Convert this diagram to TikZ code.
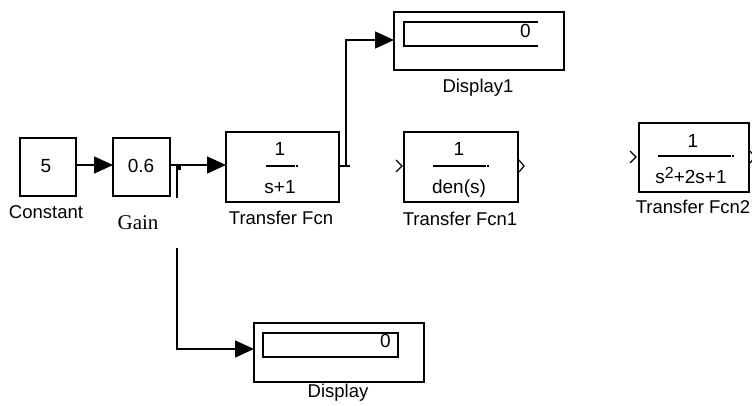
\documentclass[tikz,border=0pt]{standalone}
\usepackage{fontspec}
\setmainfont{Liberation Sans}
\newfontfamily\gainfont{Liberation Serif}
\usetikzlibrary{arrows.meta}
\begin{document}
\begin{tikzpicture}[x=1pt,y=-1pt,
  blk/.style={draw, line width=1.6pt, inner sep=0pt, outer sep=0pt, anchor=north west},
  conn/.style={line width=1.5pt},
  arr/.style={conn, -{Triangle[length=19pt,width=17pt]}},
  txt/.style={anchor=base, inner sep=0pt, font=\fontsize{19}{21}\selectfont},
  lbl/.style={anchor=base, inner sep=0pt, font=\fontsize{18.5}{21}\selectfont},
  frac/.style={line width=1.3pt},
  port/.style={line width=1.2pt}]
\useasboundingbox (0,0) rectangle (752,405);
% blocks
\node[blk, minimum width=56pt, minimum height=58pt] (const) at (20,138) {};
\node[blk, minimum width=57pt, minimum height=58pt] (gain) at (113,138) {};
\node[blk, minimum width=113pt, minimum height=70pt] (tf) at (226,132) {};
\node[blk, minimum width=114pt, minimum height=70pt] (tf1) at (404,132) {};
\node[blk, minimum width=110pt, minimum height=69pt] (tf2) at (639,123) {};
\node[blk, minimum width=170pt, minimum height=58pt] (disp1) at (394,12) {};
\node[blk, minimum width=170pt, minimum height=59pt] (disp) at (254,323) {};
\node[blk, line width=1.3pt, minimum width=135pt, minimum height=24pt] (dispfield) at (263,333) {};
\draw[line width=1.3pt] (538,22) -- (404,22) -- (404,46) -- (538,46);
% block contents
\node[txt] (constval) at (46,172) {5};
\node[txt] (gainval) at (141,172) {0.6};
\node[txt] (tfnum) at (280,155) {1};
\draw[frac] (266,166) -- (295,166);
\fill (296,165.2) rectangle (298,167);
\node[txt] (tfden) at (280,193) {s+1};
\node[txt] (tf1num) at (459,155) {1};
\draw[frac] (433,166) -- (486,166);
\fill (487,165.2) rectangle (489,167);
\node[txt] (tf1den) at (459,193) {den(s)};
\node[txt] (tf2num) at (693,147) {1};
\draw[frac] (658,156) -- (731,156);
\fill (732,155.2) rectangle (734,157);
\node[txt] (tf2den) at (691,183) {s\raisebox{5pt}{\fontsize{16}{16}\selectfont 2}+2s+1};
\node[txt, anchor=base east] (dispval) at (391,347) {0};
\node[txt, anchor=base east] (disp1val) at (531,37) {0};
% ports
\draw[port] (396,160) -- (402,166) -- (396,172);
\draw[port] (519,160) -- (524,166) -- (519,172);
\draw[port] (630,151) -- (636,157) -- (630,163);
\draw[port] (750,151) -- (755,157) -- (750,163);
% labels
\node[lbl] (constlbl) at (46,218) {Constant};
\node[anchor=base, inner sep=0pt, font=\gainfont\fontsize{21}{23}\selectfont] (gainlbl) at (138,229) {Gain};
\node[lbl] (tflbl) at (281,224) {Transfer Fcn};
\node[lbl] (tf1lbl) at (460,225) {Transfer Fcn1};
\node[lbl] (tf2lbl) at (693,213) {Transfer Fcn2};
\node[lbl] (disp1lbl) at (478,92) {Display1};
\node[lbl] (displbl) at (338,397) {Display};
% connectors
\coordinate (yA) at (0,165);
\coordinate (yB) at (0,166);
\coordinate (yC) at (0,40);
\coordinate (yD) at (0,349);
\draw[arr] (const.east |- yA) -- (gain.west |- yA);
\draw[arr] (gain.east |- yA) -- (tf.west |- yA);
\coordinate (br) at (177,165);
\coordinate (gapA) at (177,198);
\coordinate (gapB) at (177,248);
\fill (177,166) rectangle (181,170);
\draw[conn] (br) -- (gapA);
\draw[arr] (gapB) |- (disp.west |- yD);
\coordinate (tap) at (346,166);
\draw[conn] (tf.east |- yB) -- (350,166);
\draw[arr] (tf.east |- yB) -- (tap) |- (disp1.west |- yC);
\end{tikzpicture}
\end{document}
